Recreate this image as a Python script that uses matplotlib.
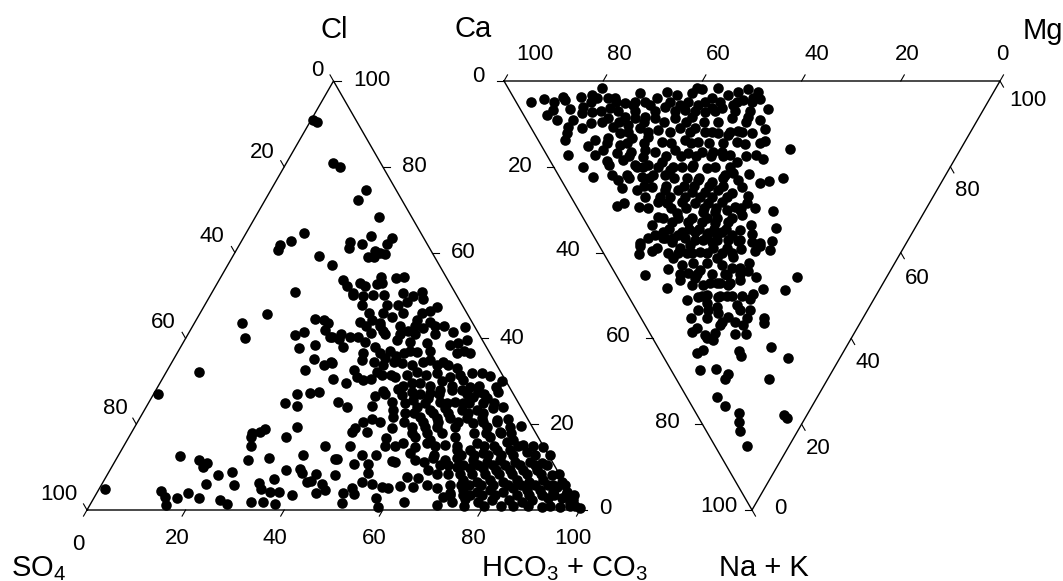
import numpy as np
import matplotlib
matplotlib.use("Agg")
import matplotlib.pyplot as plt

plt.rcParams["font.family"] = ["Liberation Sans", "DejaVu Sans"]
plt.rcParams["mathtext.fontset"] = "custom"
plt.rcParams["mathtext.rm"] = "Liberation Sans"
plt.rcParams["mathtext.default"] = "regular"

# anions, (Cl %, HCO3+CO3 %), SO4 is the remainder
anion_upper = [
    (90.9, 0.4), (90.4, 1.4), (80.8, 9.5), (79.9, 11.4), (74.5, 19.3), (72.2, 18.9), (68.4, 25.0),
    (64.5, 11.8), (62.6, 10.1), (61.7, 8.3), (60.5, 8.4), (59.1, 17.5), (57.0, 21.2), (63.8, 25.7),
    (62.1, 24.8), (62.4, 22.1), (61.0, 22.6), (63.3, 30.2), (62.1, 29.8), (60.3, 28.3), (59.6, 30.6),
    (58.9, 27.6), (58.9, 28.8), (60.0, 29.4), (50.9, 16.7), (53.7, 25.0), (52.1, 26.7), (50.2, 28.8),
    (52.8, 29.0), (52.1, 30.4), (54.2, 32.5), (53.0, 33.3), (52.6, 32.5), (54.0, 35.7), (54.4, 37.1),
    (49.8, 31.1), (50.2, 32.9), (50.2, 35.1), (50.5, 38.9), (50.5, 28.7), (50.0, 41.1), (50.9, 42.6),
    (49.1, 43.6), (48.4, 40.7), (47.9, 39.2), (47.9, 31.9), (47.9, 36.9), (47.4, 47.3), (46.3, 46.5),
]
anion_left = [
    (45.8, 13.6), (43.7, 9.6), (40.2, 11.9), (32.2, 6.6), (27.1, 0.8), (4.9, 1.2), (12.6, 12.6),
    (4.4, 12.8), (3.0, 14.3), (1.2, 15.4), (2.8, 16.9), (4.0, 18.5), (2.8, 21.3), (11.7, 16.9),
    (11.0, 18.8), (10.0, 18.5), (8.2, 22.5), (6.1, 21.1), (8.9, 25.0), (5.8, 26.9), (2.3, 25.8),
    (1.4, 27.7), (11.7, 26.9), (15.0, 25.8), (17.0, 24.8), (18.0, 24.5), (18.2, 26.0), (18.9, 26.6),
    (12.1, 30.8), (6.3, 31.7), (4.9, 32.8), (7.2, 34.3), (4.2, 35.0), (4.2, 36.8), (1.9, 32.4),
    (1.9, 34.8), (1.4, 37.4), (3.5, 39.8), (9.3, 35.7), (17.0, 31.9), (19.4, 32.9), (12.8, 37.4),
    (9.6, 38.4), (8.6, 39.3), (6.5, 41.3), (6.8, 42.0), (8.4, 42.2), (6.1, 44.7), (4.7, 45.9),
    (4.0, 44.4), (15.0, 40.8), (11.9, 44.3), (8.2, 46.2), (25.0, 27.7), (24.3, 30.5), (27.1, 29.0),
    (27.3, 31.5), (27.6, 33.2), (25.2, 38.3), (30.6, 34.6), (32.7, 27.8), (35.3, 28.4), (33.9, 31.2),
    (34.6, 32.2), (38.5, 26.9), (37.8, 24.1), (40.9, 21.8), (41.6, 23.2), (44.6, 23.9), (44.2, 26.0),
    (43.7, 27.1), (42.0, 27.3), (40.4, 29.1), (39.9, 31.1),
]
anion_middle = [
    (44.9, 39.5), (46.0, 34.2), (44.4, 35.6), (43.9, 33.4), (43.7, 37.6), (41.8, 39.1), (41.3, 36.9),
    (44.4, 44.7), (43.9, 47.6), (42.5, 46.9), (41.8, 44.2), (43.0, 50.9), (42.7, 55.3), (41.6, 53.4),
    (40.4, 29.5), (40.4, 33.1), (40.4, 34.8), (39.2, 36.8), (38.1, 32.9), (39.7, 43.0), (39.2, 45.9),
    (39.0, 49.5), (36.9, 48.4), (39.7, 57.2), (39.0, 55.7), (38.5, 54.3), (36.7, 59.3), (36.7, 56.8),
    (38.1, 39.4), (36.7, 41.0), (36.7, 37.6), (35.0, 38.3), (36.7, 45.9), (36.0, 44.7), (35.5, 42.6),
    (33.9, 43.1), (34.3, 46.7), (33.9, 49.0), (35.0, 52.1), (33.9, 54.1), (33.9, 56.3), (33.2, 58.4),
    (34.3, 32.5), (32.7, 37.9), (32.2, 42.7), (31.1, 47.0), (31.5, 49.1), (32.2, 50.8), (32.0, 55.0),
    (32.0, 62.1), (32.0, 64.1), (31.3, 66.0), (30.1, 69.2), (29.7, 37.7), (31.1, 39.3), (30.4, 40.8),
    (30.6, 42.3), (29.7, 51.1), (29.7, 52.7), (30.1, 57.0), (31.1, 58.1), (30.4, 61.1), (28.7, 63.3),
    (28.7, 68.7), (27.6, 69.6), (27.8, 46.1), (26.6, 45.1), (28.3, 49.0), (27.6, 52.1), (27.3, 55.9),
    (28.0, 57.6), (28.0, 60.0), (28.0, 62.0), (27.6, 65.5), (26.2, 68.0), (26.4, 65.1), (26.9, 50.5),
    (25.2, 49.3), (25.7, 53.3), (26.2, 56.1), (25.2, 59.0), (25.2, 62.0), (25.0, 63.8), (25.0, 67.8),
    (24.1, 40.7), (24.3, 45.6), (23.4, 50.4), (24.1, 54.9), (23.4, 57.9), (23.8, 60.7), (23.4, 64.3),
    (23.4, 67.4), (23.8, 70.4), (24.1, 72.4), (21.7, 51.2), (22.7, 53.2), (21.7, 56.6), (21.5, 60.3),
    (21.5, 62.9), (21.5, 66.4), (21.5, 69.4), (21.0, 72.6), (21.3, 74.8), (20.6, 45.7), (21.3, 47.2),
    (20.6, 49.1),
]
anion_dense = [
    (19.2, 52.3), (19.4, 56.2), (19.4, 58.8), (19.4, 61.3), (19.4, 64.9), (20.3, 68.1), (19.4, 71.4),
    (18.2, 74.7), (19.4, 76.1), (19.6, 78.2), (18.2, 44.6), (19.2, 44.7), (18.2, 47.7), (16.8, 52.2),
    (15.0, 45.8), (17.0, 58.0), (16.4, 61.4), (15.7, 61.2), (15.2, 65.0), (17.0, 66.1), (15.7, 71.3),
    (17.0, 73.2), (15.9, 77.2), (16.4, 78.2), (15.2, 80.8), (14.7, 85.1), (15.7, 56.3), (14.7, 59.1),
    (14.0, 68.0), (14.0, 70.7), (13.3, 73.6), (14.0, 76.1), (14.0, 78.8), (13.5, 82.6), (12.8, 87.5),
    (13.3, 58.8), (12.8, 49.4), (12.8, 52.2), (11.9, 44.7), (10.7, 48.9), (10.7, 51.6), (11.4, 56.2),
    (11.2, 56.9), (11.7, 60.7), (12.1, 64.1), (11.7, 66.8), (12.1, 69.1), (11.7, 72.5), (11.2, 75.5),
    (11.7, 78.0), (11.2, 81.2), (11.2, 84.2), (11.0, 86.8), (11.2, 62.7), (10.5, 66.3), (9.3, 64.5),
    (8.4, 66.8), (10.0, 70.0), (9.8, 72.8), (9.8, 75.4), (9.3, 78.4), (9.3, 81.1), (9.3, 83.7),
    (9.3, 86.6), (8.2, 90.2), (8.6, 52.7), (7.7, 61.0), (7.5, 63.3), (6.5, 52.5), (6.1, 54.8),
    (5.4, 57.1), (5.1, 58.6), (5.6, 60.7), (5.4, 63.4), (5.8, 66.1), (5.1, 68.4), (5.8, 70.7),
    (7.0, 72.8), (6.5, 75.8), (7.0, 78.2), (6.5, 81.1), (7.0, 83.7), (6.5, 86.5), (7.0, 89.0),
    (6.5, 93.0), (5.4, 92.6), (5.1, 51.3), (4.0, 49.9), (3.7, 52.4), (2.8, 57.2), (4.0, 71.6),
    (4.7, 73.9), (4.2, 77.0), (4.7, 79.3), (4.2, 82.3), (5.1, 83.8), (4.7, 86.8), (4.7, 89.5),
    (4.2, 92.4), (4.2, 95.2), (1.6, 50.9), (0.7, 58.6), (1.9, 63.4), (1.2, 70.4), (3.0, 70.7),
    (1.9, 73.1), (2.6, 75.4), (1.9, 78.4), (2.3, 81.1), (0.9, 83.5), (2.3, 84.4), (1.9, 87.3),
    (2.3, 89.2), (0.7, 91.9), (2.8, 92.1), (0.7, 95.5), (2.8, 94.9), (1.6, 97.2), (0.5, 99.8),
    (2.3, 97.4),
]
# packed parts, read as (Cl %, HCO3+CO3 % along that level)
anion_packed = [
    (46, [37, 41, 45]), (43, [35, 38, 42, 45, 49]), (41, [31, 40, 43, 46, 50]),
    (37, [43, 47, 51, 58]), (34.5, [41, 45, 51, 55]), (31.5, [44, 46, 53, 60]),
    (29, [49.5, 55, 59.5, 65]), (27, [47, 54, 58, 63.5, 67]), (25, [52, 56, 60.5, 65, 70]),
    (22.5, [55, 59, 62, 66, 69]), (20.5, [54, 58, 61, 65, 70, 73]), (18, [57, 60, 63, 69.5, 72, 75, 77]),
    (15, [53, 55, 63, 67.5, 73, 75, 80, 83]), (12.8, [64, 69.5, 72, 75, 77.5, 80, 84.5]),
    (10.6, [68, 71, 74, 77, 79.5, 82.5, 85.5, 88]), (8.3, [69, 71.5, 74, 76.5, 79.5, 82, 85, 88, 91.5]),
    (5.9, [73, 74.5, 77, 79.5, 82.5, 85, 88, 90.5, 91.5, 94]),
    (3.4, [72, 74.5, 76, 78.5, 81, 85.5, 88, 90.5, 93, 95.5, 97]), (1.0, [76, 80, 86, 89, 93.5, 97.5, 98.5]),
]

# cations, (Na+K %, Mg %), Ca is the remainder
cation_west = [
    (4.9, 3.0), (4.2, 6.0), (4.9, 7.7), (3.7, 10.0), (4.4, 10.1), (6.5, 10.0), (6.8, 6.5), (7.9, 4.7),
    (9.1, 6.1), (9.1, 9.3), (11.0, 10.2), (10.7, 7.5), (12.1, 6.6), (13.8, 5.4), (17.2, 4.3), (20.0, 5.9),
    (22.4, 6.7), (3.7, 13.6), (6.1, 12.9), (7.5, 12.0), (3.3, 16.1), (1.6, 19.0), (4.0, 16.7), (7.2, 14.1),
    (9.8, 12.6), (13.8, 11.4), (15.2, 9.3), (17.2, 9.7), (4.0, 19.0), (4.0, 20.4), (6.3, 18.3), (8.6, 16.7),
    (10.7, 16.6), (13.3, 14.4), (16.1, 12.0), (14.5, 13.6), (12.1, 17.3), (14.9, 15.9), (16.8, 14.4),
    (16.6, 17.3), (18.4, 14.8), (18.6, 11.5), (19.6, 11.4), (21.9, 10.8), (24.9, 11.3), (23.1, 11.5),
    (21.9, 13.8), (25.4, 14.1), (19.6, 16.6), (13.3, 19.2), (5.1, 21.8), (5.6, 23.2), (8.4, 20.2),
    (8.6, 22.1), (10.3, 19.9), (2.8, 26.0), (2.6, 31.6), (4.0, 28.8), (5.6, 26.6), (6.1, 29.5), (8.4, 24.2),
    (8.6, 26.1), (11.0, 21.9), (11.4, 25.3), (13.1, 22.5), (14.2, 24.8), (16.1, 20.4), (16.6, 22.1),
    (17.7, 19.1), (20.0, 16.8), (19.6, 19.2), (18.9, 22.5), (22.4, 16.6), (21.9, 19.0), (21.9, 21.5),
    (24.7, 17.4), (25.4, 19.8), (27.0, 14.9), (28.2, 16.9), (29.4, 12.5), (29.6, 14.2), (29.1, 8.2),
    (28.4, 10.0), (28.4, 18.7), (31.7, 15.1), (33.6, 13.0), (35.2, 14.5), (36.6, 14.2), (36.6, 10.7),
    (37.8, 8.5),
]
cation_centre = [
    (3.3, 33.3), (5.6, 32.7), (2.8, 36.5), (1.6, 38.1), (1.9, 39.0), (5.6, 36.3), (6.8, 33.1), (8.6, 30.2),
    (8.4, 33.7), (7.2, 36.9), (11.0, 30.0), (11.0, 33.0), (11.9, 34.6), (13.8, 29.6), (14.2, 32.0),
    (16.1, 26.5), (16.8, 28.7), (16.6, 31.6), (16.6, 33.8), (20.0, 25.9), (19.6, 28.3), (20.3, 30.8),
    (20.7, 23.1), (22.6, 25.6), (23.1, 27.6), (23.5, 30.1), (25.4, 22.4), (25.9, 25.0), (25.9, 27.6),
    (25.4, 30.4), (26.1, 33.0), (28.2, 21.8), (28.4, 24.3), (28.4, 26.9), (28.2, 29.8), (30.8, 19.5),
    (30.5, 24.8), (30.5, 27.2), (30.1, 30.0), (32.9, 17.5), (32.9, 20.7), (32.9, 23.5), (33.1, 25.9),
    (32.9, 28.8), (34.7, 30.2), (35.2, 18.3), (35.2, 20.9), (35.4, 23.4), (35.2, 26.3), (36.6, 15.8),
    (36.6, 18.2), (37.1, 20.0), (37.5, 23.1), (37.1, 26.7), (37.1, 29.1),
]
cation_east = [
    (1.6, 42.3), (4.0, 39.9), (3.3, 43.6), (2.6, 45.9), (1.9, 48.3), (2.6, 49.9), (4.2, 49.5), (4.0, 48.2),
    (4.4, 46.0), (5.6, 43.4), (6.3, 40.8), (6.3, 38.8), (6.5, 49.9), (8.4, 45.0), (9.1, 47.0), (8.6, 41.7),
    (9.6, 38.3), (11.2, 47.0), (11.7, 41.4), (12.1, 43.9), (12.6, 38.9), (12.1, 37.0), (14.2, 39.9),
    (14.7, 41.3), (14.5, 44.4), (14.0, 45.6), (15.9, 49.8), (16.6, 35.6), (17.2, 37.0), (18.9, 37.6),
    (17.2, 42.2), (18.2, 43.1), (21.9, 33.6), (21.4, 35.5), (23.1, 35.7), (24.7, 35.6), (21.7, 38.6),
    (23.8, 39.7), (23.3, 41.7), (22.6, 44.9), (26.8, 35.8), (28.4, 34.8), (29.6, 35.8), (30.1, 32.6),
    (29.4, 31.9), (31.2, 32.4), (30.3, 39.0), (33.6, 33.0), (34.3, 37.7), (35.7, 32.2), (37.3, 35.4),
    (37.5, 31.2), (37.8, 32.7),
]
cation_lower = [
    (39.6, 10.0), (38.9, 11.3), (38.5, 8.2), (40.3, 7.0), (36.6, 13.8), (37.5, 15.1), (38.9, 16.0),
    (38.2, 18.4), (37.1, 21.6), (37.1, 24.4), (37.3, 28.6), (39.6, 30.8), (38.5, 32.4), (39.4, 33.9),
    (39.2, 28.2), (38.9, 25.5), (38.9, 22.6), (39.9, 19.6), (40.1, 16.9), (41.3, 13.5), (42.9, 14.5),
    (42.4, 16.9), (42.4, 19.7), (41.3, 22.3), (41.0, 25.7), (42.9, 22.5), (43.6, 24.2), (42.4, 28.2),
    (43.6, 25.8), (44.3, 27.1), (44.1, 17.5), (44.8, 14.7), (45.2, 5.8), (43.8, 11.2), (46.4, 12.3),
    (45.9, 15.5), (47.6, 14.1), (48.3, 8.8), (47.6, 16.3), (47.1, 19.4), (47.6, 21.4), (45.2, 22.4),
    (46.4, 24.4), (45.7, 28.0), (45.7, 36.3), (48.5, 28.0), (48.7, 32.3), (49.7, 25.4), (50.8, 24.2),
    (50.3, 13.9), (49.9, 16.0), (50.3, 17.9), (50.1, 21.0), (51.0, 11.4), (51.7, 15.0), (52.7, 16.6),
    (52.2, 20.9), (53.4, 12.4), (53.4, 14.4), (54.1, 16.1), (53.4, 20.9), (53.4, 22.9), (55.2, 10.1),
    (55.2, 13.3), (55.0, 17.7), (56.2, 15.8), (56.2, 18.5), (55.2, 21.4), (56.9, 19.8), (55.2, 24.8),
    (56.4, 24.2), (58.5, 8.7), (57.6, 10.1), (59.2, 10.9), (58.7, 13.1), (59.9, 10.9), (60.4, 11.9),
    (59.0, 17.1), (59.0, 19.3), (56.9, 15.1), (63.4, 7.2), (62.7, 8.7), (62.9, 15.9), (64.1, 15.7),
    (62.0, 22.8), (64.6, 25.0), (67.4, 5.8), (67.1, 9.1), (68.3, 11.0), (69.5, 9.9), (69.5, 18.7),
    (73.7, 6.1), (75.8, 6.7), (77.4, 8.7), (79.5, 7.7), (81.6, 6.8), (85.1, 6.5), (77.9, 17.5), (78.6, 17.8),
]
# packed parts, read as (Na+K %, Mg % along that level)
cation_packed = [
    (5, [15, 20, 24, 26, 31, 34.5, 38, 41, 44.5, 47.5]), (7, [16, 19.5, 23, 27, 31, 35, 39, 43, 46]),
    (9.5, [15, 18.5, 23.5, 27.5, 32, 35.5, 44]), (12, [19, 23, 27.5, 31.5, 36, 39.5, 42]),
    (14.5, [17.5, 21, 26.5, 30.5, 34, 37]), (17.5, [16.5, 24, 27, 30, 33, 35.5, 40]),
    (20, [18, 21, 24, 28, 32.5, 35.5]), (22.5, [14, 18, 23, 28, 33]), (24.5, [16, 20.5, 24, 26, 29, 32]),
    (27, [18, 20, 23, 26, 28.5, 31.5]), (29.5, [19, 22, 25.5, 28, 33]), (32, [16, 19, 22, 25, 27, 30]),
    (34.5, [16, 20, 22, 25, 27.5]), (36, [12.5, 17, 23, 25, 28]), (40, [13, 15, 18, 21, 24, 26]),
    (45, [13, 16.5, 19.5, 22, 25]), (47, [18, 20, 22]), (50, [15, 18.5, 20, 23]),
]

tick_values = [0, 20, 40, 60, 80, 100]


# left triangle, corners in figure pixels
def anion_xy(cl, hco3):
    return 87 + 4.93 * (np.asarray(hco3) + np.asarray(cl) / 2), 510 - 4.29 * np.asarray(cl)


# right triangle
def cation_xy(nak, mg):
    return 504 + 4.96 * (np.asarray(mg) + np.asarray(nak) / 2), 81 + 4.29 * np.asarray(nak)


fig = plt.figure(figsize=(10.63, 5.81), dpi=100)
ax = fig.add_axes([0, 0, 1, 1])
ax.set_xlim(0, 1063)
ax.set_ylim(581, 0)
ax.axis("off")

# triangle outlines
x, y = anion_xy([0, 0, 100, 0], [0, 100, 0, 0])
ax.plot(x, y, color="black", lw=1, solid_joinstyle="miter")
x, y = cation_xy([0, 0, 100, 0], [0, 100, 0, 0])
ax.plot(x, y, color="black", lw=1, solid_joinstyle="miter")

# tick marks
tl = 7
for v in tick_values:
    # bottom of left triangle
    x, y = anion_xy(0, v)
    ax.plot([x, x - tl * 0.5], [y, y + tl * 0.87], color="black", lw=0.8)
    # left edge
    x, y = anion_xy(100 - v, 0)
    ax.plot([x, x - tl * 0.5], [y, y - tl * 0.87], color="black", lw=0.8)
    # right edge
    x, y = anion_xy(v, 100 - v)
    ax.plot([x, x + tl], [y, y], color="black", lw=0.8)
    # top of right triangle
    x, y = cation_xy(0, 100 - v)
    ax.plot([x, x + tl * 0.5], [y, y - tl * 0.87], color="black", lw=0.8)
    # left edge
    x, y = cation_xy(v, 0)
    ax.plot([x, x - tl], [y, y], color="black", lw=0.8)
    # right edge
    x, y = cation_xy(100 - v, v)
    ax.plot([x, x + tl * 0.5], [y, y + tl * 0.87], color="black", lw=0.8)

anion_rows = [(lev, v) for lev, vals in anion_packed for v in vals]
cation_rows = [(lev, v) for lev, vals in cation_packed for v in vals]
anions = np.array(anion_upper + anion_left + anion_middle + anion_dense + anion_rows)
cations = np.array(cation_west + cation_centre + cation_east + cation_lower + cation_rows)
x, y = anion_xy(anions[:, 0], anions[:, 1])
ax.scatter(x, y, s=58, color="black", linewidths=0, zorder=3, clip_on=False)
x, y = cation_xy(cations[:, 0], cations[:, 1])
ax.scatter(x, y, s=58, color="black", linewidths=0, zorder=3, clip_on=False)

fs = 16
labels = [
    # left triangle, left edge
    ("0", 317, 70), ("20", 262, 152), ("40", 212, 237), ("60", 163, 323), ("80", 115, 409), ("100", 59, 495),
    # right edge
    ("100", 372, 80), ("80", 414, 167), ("60", 463, 252), ("40", 512, 338), ("20", 562, 424), ("0", 605, 509),
    # bottom
    ("0", 78, 545), ("20", 177, 538), ("40", 275, 538), ("60", 374, 538), ("80", 473, 538), ("100", 573, 538),
    # right triangle, left edge
    ("0", 478, 76), ("20", 520, 166), ("40", 568, 251), ("60", 618, 337), ("80", 667, 423), ("100", 719, 507),
    # top
    ("100", 535, 55), ("80", 619, 55), ("60", 718, 55), ("40", 817, 55), ("20", 907, 54), ("0", 1002, 54),
    # right edge
    ("100", 1028, 100), ("80", 967, 190), ("60", 917, 278), ("40", 868, 363), ("20", 818, 449), ("0", 780, 509),
]
for s, tx, ty in labels:
    ax.text(tx, ty, s, ha="center", va="center", fontsize=fs, color="black")

fl = 21
ax.text(320, 38, "Cl", va="baseline", fontsize=fl)
ax.text(455, 37, "Ca", va="baseline", fontsize=fl)
ax.text(1023, 39, "Mg", va="baseline", fontsize=fl)
ax.text(11, 576, r"SO$_4$", va="baseline", fontsize=fl)
ax.text(481, 576, r"HCO$_3$ + CO$_3$", va="baseline", fontsize=fl)
ax.text(719, 576, "Na + K", va="baseline", fontsize=fl)

plt.savefig("out.png", dpi=100)
